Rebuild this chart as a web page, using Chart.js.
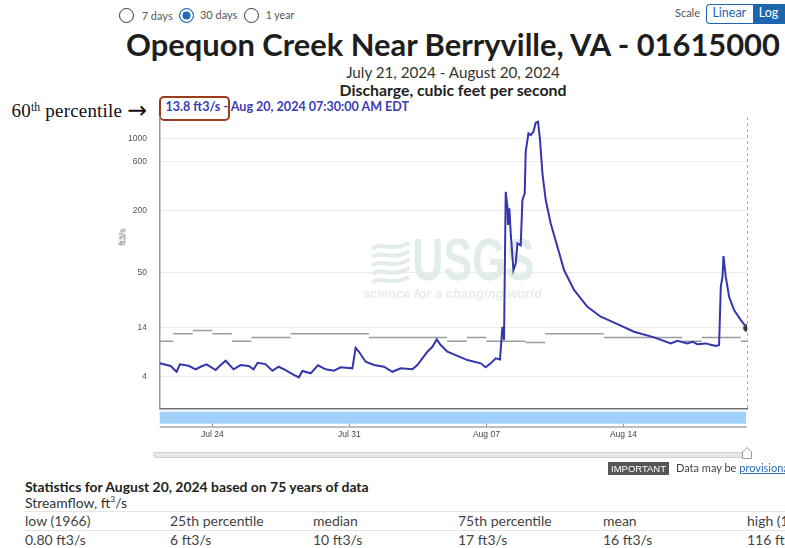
<!DOCTYPE html>
<html><head><meta charset="utf-8">
<script src="https://cdn.jsdelivr.net/npm/chart.js@4/dist/chart.umd.min.js"></script>
<style>
html,body{margin:0;padding:0;background:#fff;}
body{width:785px;height:548px;overflow:hidden;position:relative;font-family:Lato,"Noto Sans",sans-serif;color:#222;}
.t{position:absolute;white-space:nowrap;line-height:1;}
.radio{position:absolute;width:15px;height:15px;border:1.5px solid #333;border-radius:50%;box-sizing:border-box;background:#fff;}
.radio.on{border-color:#1f6db8;background:#1f6db8;box-shadow:inset 0 0 0 2.5px #fff;}
.hr{position:absolute;left:25px;width:770px;height:1px;background:#e4e4e4;}
#chartBox{position:absolute;left:100px;top:108px;width:660px;height:340px;}
</style></head><body>

<div class="radio" style="left:119px;top:8px"></div>
<div class="t" data-x="141.7" data-cy="15.5" data-fs="12.5" data-w="31" style="color:#555">7 days</div>
<div class="radio on" style="left:178.8px;top:8px"></div>
<div class="t" data-x="200" data-cy="15.5" data-fs="12.5" data-w="37.3" style="color:#555">30 days</div>
<div class="radio" style="left:244.2px;top:8px"></div>
<div class="t" data-x="265.7" data-cy="15.5" data-fs="12.5" data-w="28.6" style="color:#555">1 year</div>

<div class="t" data-x="675" data-cy="14" data-fs="12.5" data-w="25" style="color:#555">Scale</div>
<div style="position:absolute;left:706px;top:3.5px;width:46.7px;height:20px;border:1.5px solid #1d66ad;border-right:none;border-radius:4px 0 0 4px;box-sizing:border-box;"></div>
<div style="position:absolute;left:752.7px;top:3.5px;width:40px;height:20px;background:#1d66ad;"></div>
<div class="t" data-cx="729.3" data-cy="13.8" data-fs="12.5" style="color:#1d66ad">Linear</div>
<div class="t" data-cx="768.5" data-cy="13.8" data-fs="12.5" style="color:#fff">Log</div>

<div class="t" data-cx="453" data-cy="45.9" data-fs="28" data-w="654" style="font-weight:bold;color:#1e1e1e">Opequon Creek Near Berryville, VA - 01615000</div>
<div class="t" data-cx="453" data-cy="73" data-fs="14" data-w="214" style="color:#333">July 21, 2024 - August 20, 2024</div>
<div class="t" data-cx="453" data-cy="90.2" data-fs="14" data-w="227" style="font-weight:bold;color:#222">Discharge, cubic feet per second</div>

<div class="t" data-x="11.5" data-cy="111" data-fs="17" data-w="111" data-k="0.5" style="font-family:'Liberation Serif',serif;color:#111;letter-spacing:0.2px">60<span style="font-size:0.62em;position:relative;top:-0.5em">th</span> percentile</div>
<div class="t" data-x="127" data-cy="110.5" data-fs="19" data-w="20" data-k="0.5" style="font-family:'DejaVu Sans',sans-serif;color:#111">→</div>
<div class="t" data-x="165.5" data-cy="108" data-fs="12" data-w="244" style="font-weight:bold;color:#3c3cb4">13.8 ft3/s - Aug 20, 2024 07:30:00 AM EDT</div>
<div style="position:absolute;left:158.5px;top:95.5px;width:71px;height:25.5px;border:2.5px solid #9b3b1b;border-radius:5px;box-sizing:border-box;"></div>

<div id="chartBox"><canvas id="c" width="660" height="340"></canvas></div>
<div class="t" style="left:123px;top:237px;transform:translate(-50%,-50%) rotate(-90deg);font-family:'Liberation Sans',Arial,sans-serif;font-size:9px;color:#666">ft3/s</div>

<div style="position:absolute;left:153px;top:452px;width:593px;height:4px;background:#e8e8e8;border:1px solid #cfcfcf;border-radius:3px;"></div>
<svg style="position:absolute;left:740px;top:446px" width="14" height="14" viewBox="0 0 14 14"><path d="M2.5 12.5 L2.5 6 L7 1.5 L11.5 6 L11.5 12.5 Z" fill="#fff" stroke="#999" stroke-width="1"/></svg>

<div style="position:absolute;left:608px;top:462px;width:61px;height:12.5px;background:#53575a;"></div>
<div class="t" data-cx="638.5" data-cy="468.2" data-fs="10" data-w="55" data-k="0.49" style="font-family:'Liberation Sans',Arial,sans-serif;color:#fff">IMPORTANT</div>
<div class="t" data-x="676" data-cy="468" data-fs="11" style="color:#444">Data may be <span style="color:#2a6ebb;text-decoration:underline">provisional</span></div>

<div class="t" data-x="25" data-cy="487.5" data-fs="14.5" data-w="344" style="font-weight:bold;color:#222">Statistics for August 20, 2024 based on 75 years of data</div>
<div class="t" data-x="25" data-cy="503" data-fs="14" data-w="102" style="color:#333">Streamflow, ft<sup style="font-size:0.6em;line-height:0">3</sup>/s</div>
<div class="hr" style="top:511px"></div>
<div class="hr" style="top:530px"></div>
<div class="hr" style="top:548px"></div>

<div class="t" data-x="25" data-cy="521" data-fs="14" style="color:#444">low (1966)</div>
<div class="t" data-x="170" data-cy="521" data-fs="14" style="color:#444">25th percentile</div>
<div class="t" data-x="313" data-cy="521" data-fs="14" style="color:#444">median</div>
<div class="t" data-x="458" data-cy="521" data-fs="14" style="color:#444">75th percentile</div>
<div class="t" data-x="603" data-cy="521" data-fs="14" style="color:#444">mean</div>
<div class="t" data-x="747" data-cy="521" data-fs="14" style="color:#444">high (1989)</div>
<div class="t" data-x="25" data-cy="540" data-fs="14" style="color:#444">0.80 ft3/s</div>
<div class="t" data-x="170" data-cy="540" data-fs="14" style="color:#444">6 ft3/s</div>
<div class="t" data-x="313" data-cy="540" data-fs="14" style="color:#444">10 ft3/s</div>
<div class="t" data-x="458" data-cy="540" data-fs="14" style="color:#444">17 ft3/s</div>
<div class="t" data-x="603" data-cy="540" data-fs="14" style="color:#444">16 ft3/s</div>
<div class="t" data-x="747" data-cy="540" data-fs="14" style="color:#444">116 ft3/s</div>

<script>
// ---- data (x = days since Jul 21, 2024 00:00) ----
const startDay = 0.3125;   // Jul 21 07:30
const endDay = 30.3125;    // Aug 20 07:30
const flowDays = [0.3125,0.869,1.176,1.344,1.789,2.147,2.402,2.709,3.169,3.373,3.680,4.088,4.446,4.855,5.110,5.315,5.713,6.066,6.388,6.746,7.088,7.425,7.599,8.023,8.396,8.789,9.214,9.556,10.154,10.322,10.491,10.833,11.258,11.769,12.198,12.622,13.220,13.475,13.731,13.986,14.242,14.461,14.666,15.008,15.432,16.030,16.710,16.965,17.221,17.476,17.696,17.819,17.900,17.987,18.074,18.105,18.176,18.243,18.381,18.498,18.585,18.754,18.841,18.958,19.009,19.147,19.265,19.403,19.520,19.638,19.740,19.862,20.031,20.286,20.629,20.966,21.477,22.162,22.841,23.695,24.543,25.565,26.418,26.76,27.27,27.53,27.78,28.21,28.46,28.72,28.887,28.974,29.06,29.111,29.229,29.398,29.653,29.995,30.3125];
const flowValues = [5.74,5.35,4.59,5.59,5.39,4.90,5.25,5.59,4.81,5.35,6.14,4.90,5.49,5.35,4.90,5.83,5.63,4.72,5.25,4.81,4.31,3.94,4.68,4.40,5.45,4.90,4.72,5.17,5.03,8.53,7.72,5.99,5.49,5.25,4.59,5.03,4.90,5.49,6.53,7.72,8.74,10.49,9.12,7.72,7.10,6.25,5.74,5.17,5.74,6.53,6.36,14.2,10.31,304,218,145,210,120,52.6,61,96,92,253,294,742,1118,1076,1158,1415,1446,963,459,253,150,89,52.6,33.4,22.7,18.0,15.1,12.6,11.0,9.5,10.1,9.5,9.9,9.3,9.5,9.2,8.9,9.12,36,45,72,45,28.6,21,16.6,13.8];
const medianValues = [10,12,13,12,10,11,11,12,12,12,12,11,11,11,11,10,11,10,10,9.7,12,12,12,11,11,11,11,10,11,11,10];
const yTicks = [4,14,50,200,600,1000];
const xTickDays = [3,10,17,24];
const xTickLabels = ['Jul 24','Jul 31','Aug 07','Aug 14'];

// ---- text layout helper ----
function layoutText(){
  document.querySelectorAll('[data-cy]').forEach(el=>{
    let fs = parseFloat(el.dataset.fs);
    el.style.fontSize = fs+'px';
    if (el.dataset.w){
      const w = el.getBoundingClientRect().width;
      fs = fs*parseFloat(el.dataset.w)/w;
      el.style.fontSize = fs+'px';
    }
    const w2 = el.getBoundingClientRect().width;
    const left = el.dataset.cx ? parseFloat(el.dataset.cx)-w2/2 : parseFloat(el.dataset.x);
    const k = el.dataset.k ? parseFloat(el.dataset.k) : 0.53;
    el.style.left = left+'px';
    el.style.top = (parseFloat(el.dataset.cy)-k*fs)+'px';
  });
}
layoutText();

// ---- symmetric-log style scale: pixel ~ log10(v+1) ----
class Log1pScale extends Chart.LinearScale {
  configure(){
    super.configure();
    this._lo = Math.log10(this.min+1);
    this._hi = Math.log10(this.max+1);
  }
  getPixelForValue(v){
    if (v === null || v === undefined || isNaN(v)) return NaN;
    return this.getPixelForDecimal((Math.log10(v+1)-this._lo)/(this._hi-this._lo));
  }
  getValueForPixel(p){
    return Math.pow(10, this._lo + this.getDecimalForPixel(p)*(this._hi-this._lo)) - 1;
  }
}
Log1pScale.id = 'log1p';
Log1pScale.defaults = {};
Chart.register(Log1pScale);

const flowData = flowDays.map((d,i)=>({x:d, y:flowValues[i]}));
const medianData = [];
medianValues.forEach((m,i)=>{
  medianData.push({x:i, y:m},{x:i+1, y:m},{x:i+1, y:null});
});

const deco = {
  id:'deco',
  beforeDatasetsDraw(chart){
    const {ctx, chartArea:a, scales} = chart;
    const cx = (a.left+a.right)/2, cy = (a.top+a.bottom)/2;
    ctx.save();
    ctx.fillStyle = '#e2ece9';
    ctx.save();
    ctx.translate(cx+20, cy+1);
    ctx.scale(0.73,1);
    ctx.font = 'bold 59px "Liberation Sans", Arial, sans-serif';
    ctx.textAlign = 'center'; ctx.textBaseline = 'middle';
    ctx.fillText('USGS', 0, 0);
    ctx.restore();
    ctx.strokeStyle = '#e2ece9'; ctx.lineWidth = 4;
    for (let k=0;k<5;k++){
      ctx.beginPath();
      const y0 = cy-17+k*8.5;
      ctx.moveTo(cx-81, y0+3);
      ctx.bezierCurveTo(cx-72, y0-5, cx-62, y0+7, cx-44, y0-3);
      ctx.stroke();
    }
    ctx.fillStyle = '#e5eeeb';
    ctx.font = 'italic bold 13px "Liberation Sans", Arial, sans-serif';
    ctx.textAlign = 'center'; ctx.textBaseline = 'middle';
    ctx.fillText('science for a changing world', cx-1, cy+32);
    const xl = scales.x.getPixelForValue(flowDays[flowDays.length-1]);
    ctx.strokeStyle = '#aaa'; ctx.lineWidth = 1; ctx.setLineDash([3,3]);
    ctx.beginPath(); ctx.moveTo(xl+0.5, a.top); ctx.lineTo(xl+0.5, a.bottom); ctx.stroke();
    ctx.restore();
  },
  afterDraw(chart){
    const {ctx, chartArea:a, scales} = chart;
    ctx.save();
    ctx.fillStyle = '#a0d1fb';
    ctx.fillRect(a.left, a.bottom+3, a.right-a.left-1, 12);
    ctx.strokeStyle = '#a9a9a9'; ctx.lineWidth = 1.5;
    ctx.beginPath(); ctx.moveTo(a.left, a.bottom+18.3); ctx.lineTo(a.right, a.bottom+18.3); ctx.stroke();
    ctx.strokeStyle = '#999'; ctx.lineWidth = 1;
    xTickDays.forEach(d=>{
      const px = Math.round(scales.x.getPixelForValue(d))+0.5;
      ctx.beginPath(); ctx.moveTo(px, a.bottom+15); ctx.lineTo(px, a.bottom+18); ctx.stroke();
    });
    ctx.restore();
  }
};

function noPad(s){ s.paddingTop = 0; s.paddingBottom = 0; s.paddingLeft = 0; s.paddingRight = 0; }

new Chart(document.getElementById('c'), {
  type:'line',
  data:{datasets:[
    {label:'Discharge', data:flowData, borderColor:'#3535ad', borderWidth:2, tension:0,
     pointRadius:c=>c.dataIndex===flowDays.length-1?3.5:0,
     pointBackgroundColor:'#333', pointBorderColor:'#666', pointBorderWidth:1, order:0},
    {label:'Median', data:medianData, borderColor:'#9c9c9c', borderWidth:1.5, pointRadius:0, spanGaps:false, order:1}
  ]},
  options:{
    responsive:false, animation:false,
    layout:{padding:{top:9,right:13,left:0,bottom:0}},
    plugins:{legend:{display:false}, tooltip:{enabled:false}},
    scales:{
      x:{type:'linear', min:startDay, max:endDay,
         afterBuildTicks:s=>{s.ticks = xTickDays.map(v=>({value:v}));},
         afterFit:s=>{s.height = 39.3; noPad(s);},
         ticks:{callback:v=>xTickLabels[xTickDays.indexOf(v)], autoSkip:false, maxRotation:0,
                font:{family:'"Liberation Sans", Arial, sans-serif', size:8.5}, color:'#444', padding:21},
         grid:{drawOnChartArea:false, drawTicks:false},
         border:{color:'#707070', width:1.5}},
      y:{type:'log1p', min:1.46, max:1606,
         afterBuildTicks:s=>{s.ticks = yTicks.map(v=>({value:v}));},
         afterFit:s=>{s.width = 59.7; noPad(s);},
         ticks:{callback:v=>String(v), font:{family:'"Liberation Sans", Arial, sans-serif', size:8.5}, color:'#555', padding:12.7},
         grid:{color:'#ececec', lineWidth:1, drawTicks:false},
         border:{color:'#999', width:1.5}}
    }
  },
  plugins:[deco]
});
</script>
</body></html>
